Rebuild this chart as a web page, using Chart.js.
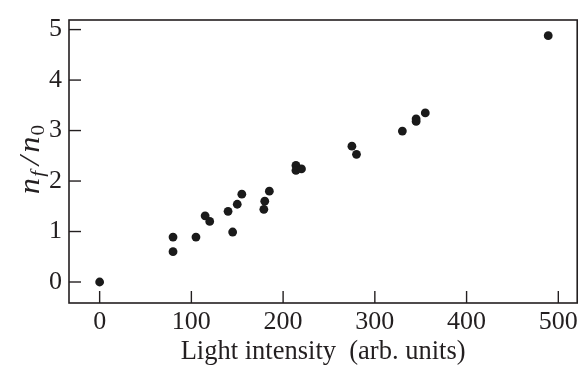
<!DOCTYPE html>
<html>
<head>
<meta charset="utf-8">
<script src="https://cdn.jsdelivr.net/npm/chart.js@4/dist/chart.umd.min.js"></script>
<style>
  html, body { margin: 0; padding: 0; background: #fff; }
  #wrap { width: 584px; height: 365px; }
</style>
</head>
<body>
<div id="wrap"><canvas id="c" width="584" height="365"></canvas></div>
<script>
const intensity = [0, 80, 80, 105, 115, 120, 140, 145, 150, 155, 179, 180, 185, 214, 214, 220, 275, 280, 330, 345, 345, 355, 489];
const ratio = [0, 0.89, 0.6, 0.89, 1.31, 1.2, 1.4, 0.99, 1.54, 1.74, 1.44, 1.6, 1.8, 2.31, 2.21, 2.24, 2.69, 2.53, 2.99, 3.23, 3.18, 3.35, 4.88];
const xTicks = [0, 100, 200, 300, 400, 500];
const yTicks = [0, 1, 2, 3, 4, 5];
const xTitle = 'Light intensity  (arb. units)';

const ink = '#231f20';
const serif = "Liberation Serif";

const frame = {
  id: 'frame',
  afterDraw(chart) {
    const ctx = chart.ctx, a = chart.chartArea;
    const xs = chart.scales.x, ys = chart.scales.y;
    ctx.save();
    ctx.setLineDash([]);
    ctx.globalAlpha = 1;
    ctx.strokeStyle = ink;
    ctx.lineWidth = 1.6;
    ctx.strokeRect(a.left, a.top, a.right - a.left, a.bottom - a.top);
    ctx.lineWidth = 1.4;
    for (const v of xTicks) {
      const px = xs.getPixelForValue(v);
      ctx.beginPath();
      ctx.moveTo(px, a.bottom);
      ctx.lineTo(px, a.bottom - 12);
      ctx.stroke();
    }
    for (const v of yTicks) {
      const py = ys.getPixelForValue(v);
      ctx.beginPath();
      ctx.moveTo(a.left, py);
      ctx.lineTo(a.left + 12, py);
      ctx.stroke();
    }
    // y-axis title n_f / n_0 (rotated)
    ctx.translate(31, (a.top + a.bottom) / 2 - 2);
    ctx.rotate(-Math.PI / 2);
    ctx.scale(1.12, 1);
    ctx.fillStyle = ink;
    ctx.textBaseline = 'alphabetic';
    ctx.textAlign = 'left';
    const big = "italic 29px " + serif;
    const small = "italic 19px " + serif;
    const parts = [
      {t: 'n', f: big, dy: 0, gap: 1},
      {t: 'f', f: small, dy: 5, gap: 5},
      {t: '/', f: big, dy: 0, gap: 3},
      {t: 'n', f: big, dy: 0, gap: 1},
      {t: '0', f: "19px " + serif, dy: 5, gap: 0}
    ];
    let w = 0;
    parts.forEach(p => { ctx.font = p.f; w += ctx.measureText(p.t).width + p.gap; });
    let x = -w / 2;
    parts.forEach(p => {
      ctx.font = p.f;
      ctx.fillText(p.t, x, 8 + p.dy);
      x += ctx.measureText(p.t).width + p.gap;
    });
    ctx.restore();
  }
};

new Chart(document.getElementById('c'), {
  type: 'scatter',
  data: {
    datasets: [{
      data: intensity.map((v, i) => ({x: v, y: ratio[i]})),
      backgroundColor: '#1a1a1a',
      borderColor: '#1a1a1a',
      pointRadius: 4.4,
      borderWidth: 0
    }]
  },
  options: {
    responsive: false,
    animation: false,
    layout: { padding: { top: 15, right: 5, left: 0, bottom: 0 } },
    plugins: { legend: { display: false }, tooltip: { enabled: false } },
    scales: {
      x: {
        type: 'linear',
        min: -33.4,
        max: 520.6,
        afterBuildTicks: s => { s.ticks = xTicks.map(v => ({value: v})); },
        afterFit: s => { s.height = 62; },
        grid: { display: false, drawTicks: false },
        border: { display: false },
        ticks: { color: ink, font: { family: serif, size: 26, lineHeight: 1 }, padding: 6, maxRotation: 0 },
        title: { display: true, text: xTitle, color: ink, font: { family: serif, size: 26.5, lineHeight: 1 }, padding: { top: 0, bottom: 0 } }
      },
      y: {
        type: 'linear',
        min: -0.416,
        max: 5.19,
        afterBuildTicks: s => { s.ticks = yTicks.map(v => ({value: v})); },
        afterFit: s => { s.width = 69; },
        grid: { display: false, drawTicks: false },
        border: { display: false },
        ticks: { color: ink, font: { family: serif, size: 26, lineHeight: 1 }, padding: 7 }
      }
    }
  },
  plugins: [frame]
});
</script>
</body>
</html>
